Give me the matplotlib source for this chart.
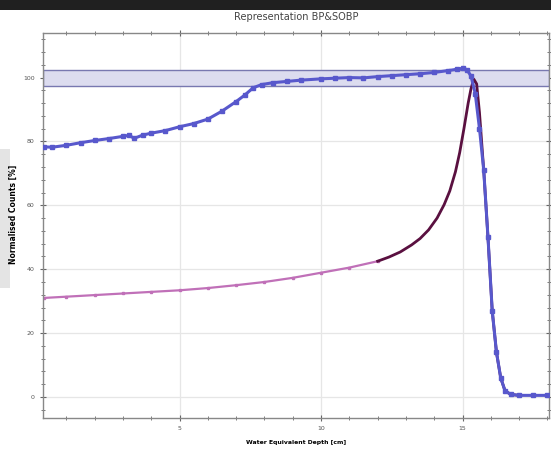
import numpy as np
import matplotlib
matplotlib.use('Agg')
import matplotlib.pyplot as plt
from matplotlib.patches import Rectangle
from matplotlib.ticker import MultipleLocator

# SOBP (blue) - depth [cm], normalised counts [%]
sobp_x = [0.2, 0.5, 1.0, 1.5, 2.0, 2.5, 3.0, 3.2, 3.4, 3.7, 4.0, 4.5, 5.0, 5.5,
          6.0, 6.5, 7.0, 7.3, 7.6, 7.9, 8.3, 8.8, 9.3, 10.0, 10.5, 11.0, 11.5,
          12.0, 12.5, 13.0, 13.5, 14.0, 14.5, 14.8, 15.0, 15.15, 15.3, 15.45,
          15.6, 15.75, 15.9, 16.05, 16.2, 16.35, 16.5, 16.7, 17.0, 17.5, 18.0]
sobp_y = [78.3, 78.2, 78.8, 79.6, 80.3, 80.9, 81.6, 81.9, 81.0, 82.0, 82.6, 83.4,
          84.6, 85.6, 87.0, 89.5, 92.5, 94.5, 96.8, 97.8, 98.4, 98.8, 99.2, 99.6,
          99.8, 100.0, 99.9, 100.3, 100.6, 100.9, 101.2, 101.6, 102.2, 102.6,
          102.9, 102.5, 100.5, 95.0, 84.0, 71.0, 50.0, 27.0, 14.0, 6.0, 2.0,
          0.8, 0.5, 0.5, 0.5]

# single Bragg peak (pink -> dark)
bp_x = [0.2, 1.0, 2.0, 3.0, 4.0, 5.0, 6.0, 7.0, 8.0, 9.0, 10.0, 11.0, 12.0,
        12.4, 12.8, 13.2, 13.5, 13.8, 14.1, 14.35, 14.55, 14.75, 14.9, 15.05,
        15.2, 15.3, 15.4, 15.5, 15.6, 15.75, 15.9, 16.05, 16.2, 16.35, 16.5,
        16.7, 17.0]
bp_y = [31.0, 31.4, 31.9, 32.4, 32.9, 33.4, 34.1, 35.0, 36.0, 37.3, 38.9, 40.5,
        42.5, 43.8, 45.4, 47.6, 49.6, 52.3, 56.0, 60.2, 64.5, 70.5, 76.5, 84.0,
        92.0, 96.5, 99.5, 98.0, 89.0, 71.0, 50.0, 27.0, 14.0, 6.0, 2.0, 0.8, 0.5]

band_low, band_high = 97.5, 102.5

fig = plt.figure(figsize=(5.51, 4.5), dpi=100)
ax = fig.add_axes([0.078, 0.071, 0.918, 0.856])

# dark strip on top and grey box at left (screenshot artefacts)
fig.patches.append(Rectangle((0, 0.978), 1, 0.022, transform=fig.transFigure,
                             facecolor='#202020', edgecolor='none', zorder=-1))
fig.patches.append(Rectangle((0, 0.36), 0.018, 0.31, transform=fig.transFigure,
                             facecolor='#e4e4e4', edgecolor='none', zorder=-1))

ax.axhspan(band_low, band_high, facecolor='#dcdcef', edgecolor='#7878b0', linewidth=1.0, zorder=1)

bpx = np.array(bp_x)
bpy = np.array(bp_y)
light = bpx <= 12.0
dark = bpx >= 12.0
ax.plot(bpx[light], bpy[light], color='#c070b8', lw=1.6, marker='s', ms=1.5, zorder=2)
ax.plot(bpx[dark], bpy[dark], color='#5a1040', lw=2.0, zorder=2)

ax.plot(sobp_x, sobp_y, color='#5858cc', lw=2.2, marker='s', ms=2.2, zorder=3)

ax.set_xlim(0.17, 18.05)
ax.set_ylim(-6.6, 114)
ax.xaxis.set_major_locator(MultipleLocator(5))
ax.xaxis.set_minor_locator(MultipleLocator(1))
ax.yaxis.set_major_locator(MultipleLocator(20))
ax.yaxis.set_minor_locator(MultipleLocator(4))
ax.tick_params(which='both', direction='inout', top=True, right=True,
               labelsize=4.5, labelcolor='#555555', color='#666666')
ax.tick_params(which='major', length=5)
ax.tick_params(which='minor', length=3)
ax.grid(True, which='major', color='#e6e6e6', lw=0.9)
ax.set_axisbelow(True)
for s in ax.spines.values():
    s.set_color('#888888')
    s.set_linewidth(1.0)

ax.set_title('Representation BP&SOBP', fontsize=7, color='#444444', pad=9)
ax.set_xlabel('Water Equivalent Depth [cm]', fontsize=4.4, fontweight='bold', labelpad=6)
ax.set_ylabel('Normalised Counts [%]', fontsize=5.5, fontweight='bold')
ax.yaxis.set_label_coords(-0.05, 0.53)

fig.savefig('out.png', dpi=100)
